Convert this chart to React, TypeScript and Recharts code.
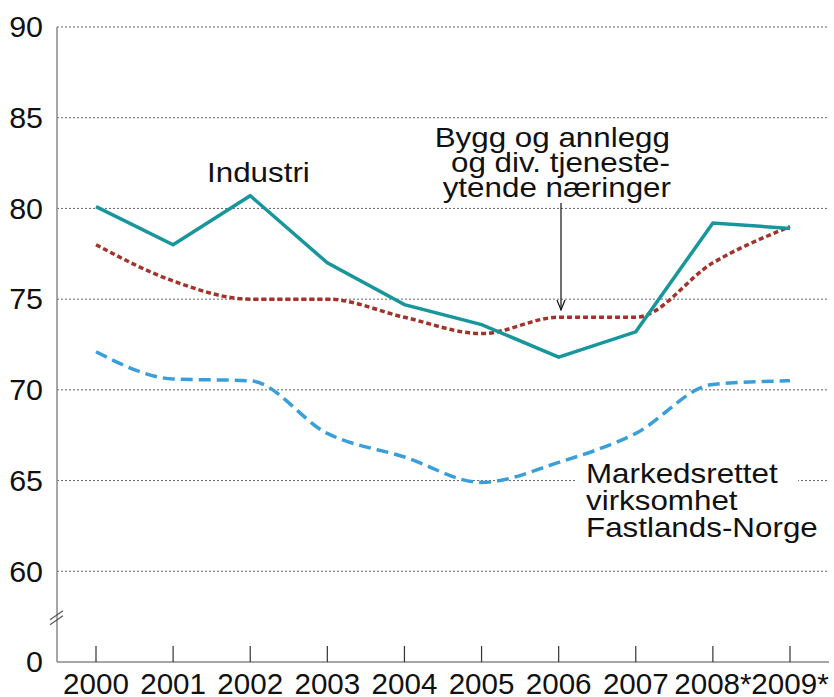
import React from "react";
import { LineChart, Line, XAxis, YAxis, CartesianGrid } from "recharts";

const years = ["2000", "2001", "2002", "2003", "2004", "2005", "2006", "2007", "2008*", "2009*"];
const industri = [80.1, 78.0, 80.7, 77.0, 74.7, 73.6, 71.8, 73.2, 79.2, 78.9];
const bygg = [78.0, 76.0, 75.0, 75.0, 74.0, 73.1, 74.0, 74.0, 77.0, 79.0];
const markedsrettet = [72.1, 70.6, 70.5, 67.6, 66.3, 64.9, 66.0, 67.6, 70.3, 70.5];
const yTicks = [55, 60, 65, 70, 75, 80, 85, 90];
const gridValues = [60, 65, 70, 75, 80, 85, 90];

const data = years.map((y, i) => ({
  year: y,
  industri: industri[i],
  bygg: bygg[i],
  markedsrettet: markedsrettet[i],
}));

const FONT = "'Liberation Sans', Arial, sans-serif";

const ST = ({ x, y, anchor = "start", size = 28, sx = 1.12, dy, children }: any) => (
  <text
    transform={`translate(${x} ${y}) scale(${sx} 1)`}
    x={0}
    y={0}
    dy={dy}
    textAnchor={anchor}
    fontFamily={FONT}
    fontSize={size}
    fill="#111"
  >
    {children}
  </text>
);

const XTick = (props: any) => {
  const { x, y, payload } = props;
  return (
    <g>
      <line x1={x} x2={x} y1={y - 16} y2={y} stroke="#333" strokeWidth={1.2} />
      <ST x={x} y={y + 32} anchor="middle" size={29} sx={1.02}>
        {payload.value}
      </ST>
    </g>
  );
};

const YTick = (props: any) => {
  const { x, y, payload } = props;
  if (payload.value === 57.5) {
    const ax = x + 14;
    return (
      <g>
        <line x1={ax - 7} x2={ax + 6} y1={y + 3} y2={y - 6} stroke="#555" strokeWidth={1.2} />
        <line x1={ax - 7} x2={ax + 6} y1={y + 8} y2={y - 1} stroke="#555" strokeWidth={1.2} />
      </g>
    );
  }
  return (
    <ST x={x} y={y} dy="0.355em" anchor="end" size={29} sx={1.05}>
      {payload.value === 55 ? "0" : payload.value}
    </ST>
  );
};

export default function App() {
  return (
    <div style={{ position: "absolute", left: 0, top: 0, width: 834, height: 697, background: "#fff" }}>
      <LineChart width={834} height={697} data={data} margin={{ top: 27, right: 5, bottom: 0, left: 0 }}>
        <CartesianGrid
          vertical={false}
          horizontalValues={gridValues}
          stroke="#666"
          strokeDasharray="2 2"
          strokeWidth={1}
        />
        <XAxis
          dataKey="year"
          height={35}
          padding={{ left: 39, right: 39 }}
          tickLine={false}
          tickSize={0}
          tickMargin={0}
          axisLine={{ stroke: "#888", strokeWidth: 1.5 }}
          tick={<XTick />}
          interval={0}
        />
        <YAxis
          width={57}
          domain={[55, 90]}
          ticks={[...yTicks, 57.5]}
          type="number"
          tickLine={false}
          tickSize={0}
          tickMargin={14}
          axisLine={{ stroke: "#888", strokeWidth: 1.5 }}
          tick={<YTick />}
          interval={0}
        />
        <Line
          dataKey="markedsrettet"
          type="monotone"
          stroke="#3A9FD9"
          strokeWidth={3.5}
          strokeDasharray="12 6"
          dot={false}
          isAnimationActive={false}
        />
        <Line
          dataKey="bygg"
          type="monotone"
          stroke="#A3322B"
          strokeWidth={3.5}
          strokeDasharray="5 3"
          dot={false}
          isAnimationActive={false}
        />
        <Line
          dataKey="industri"
          type="linear"
          stroke="#17969B"
          strokeWidth={3.5}
          dot={false}
          isAnimationActive={false}
        />
      </LineChart>
      <svg width={834} height={697} style={{ position: "absolute", left: 0, top: 0, pointerEvents: "none" }}>
        <ST x={207} y={182}>Industri</ST>
        <ST x={670} y={147} anchor="end">Bygg og annlegg</ST>
        <ST x={670} y={172} anchor="end">og div. tjeneste-</ST>
        <ST x={671} y={197} anchor="end">ytende næringer</ST>
        <line x1={561} x2={561} y1={203} y2={310} stroke="#111" strokeWidth={1.2} />
        <path d="M557,300 L561,310 L565,300" fill="none" stroke="#111" strokeWidth={1.2} />
        <rect x={577} y={470} width={221} height={75} fill="#fff" />
        <ST x={586} y={483}>Markedsrettet</ST>
        <ST x={586} y={510}>virksomhet</ST>
        <ST x={586} y={537}>Fastlands-Norge</ST>
      </svg>
    </div>
  );
}
